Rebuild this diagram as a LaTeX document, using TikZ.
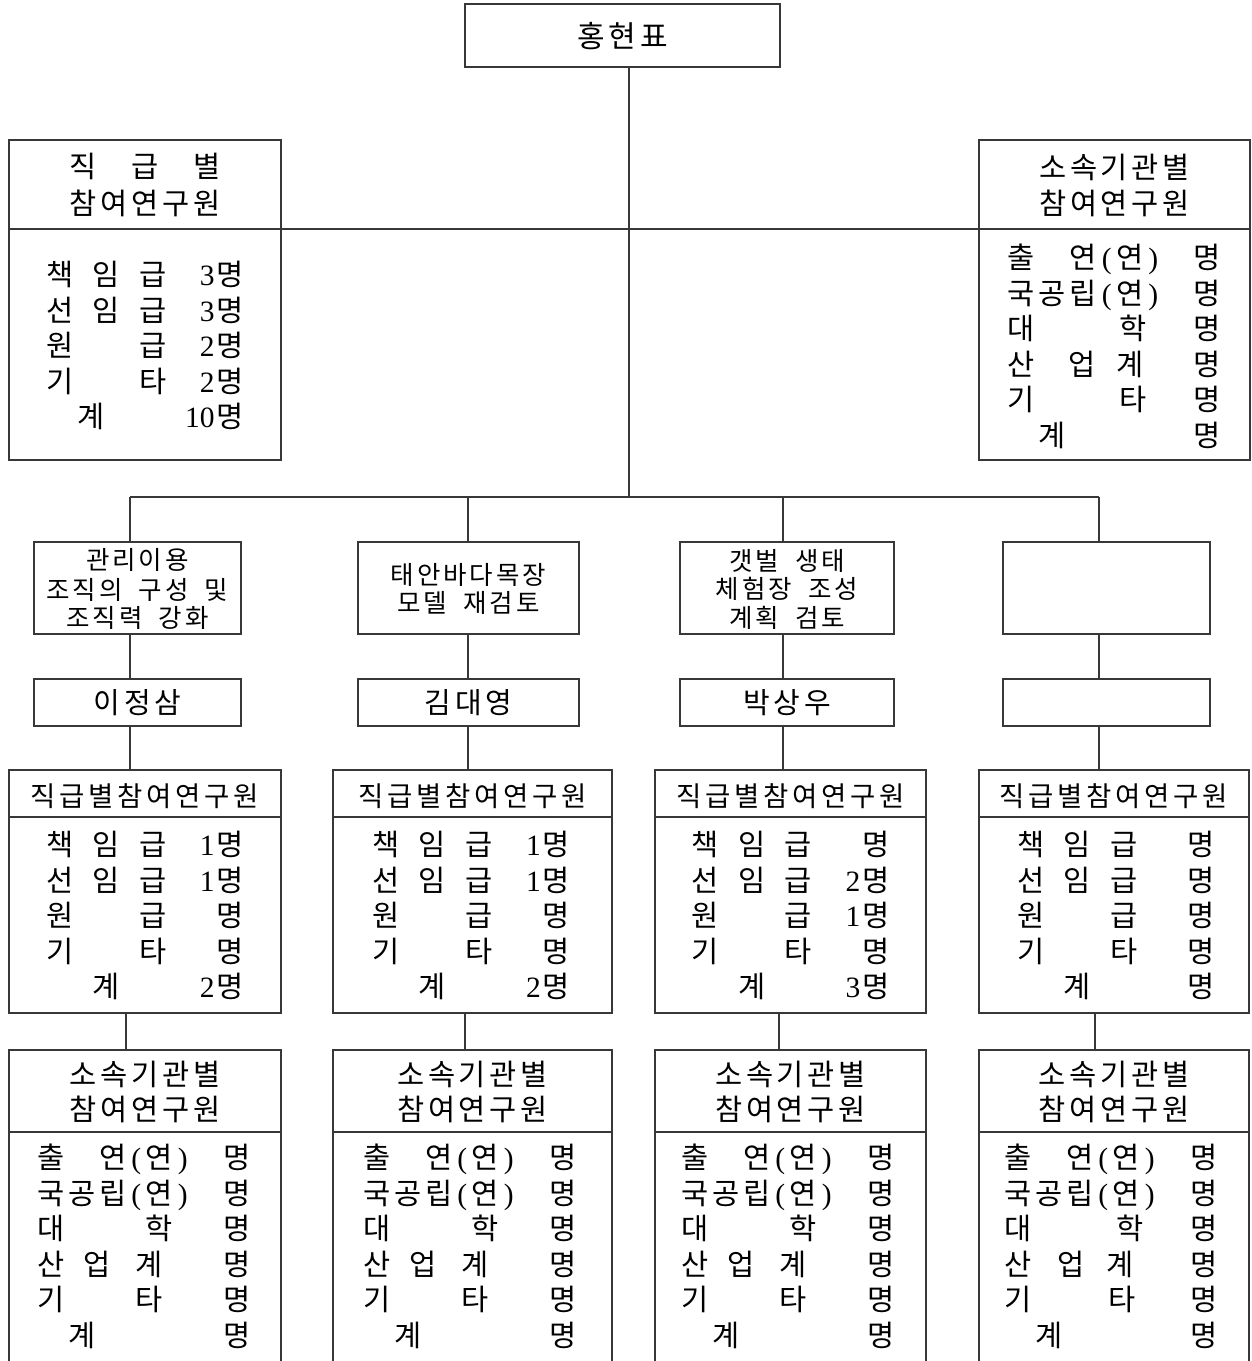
\documentclass[tikz,border=0pt]{standalone}
\usepackage{fontspec}
\setmainfont{Noto Sans CJK KR}
\newfontfamily\latf{Liberation Serif}
\newlength\uu
\setlength\uu{15.5pt}
\makeatletter
\def\sp@bar{|}
\newcommand\spaced[2]{\begingroup\def\sp@w{#1}\@tfor\sp@c:=#2\do{\ifx\sp@c\sp@bar\hspace*{0.5\dimexpr\sp@w\relax}\else\makebox[\sp@w][c]{\sp@c}\fi}\endgroup}
\makeatother
\newcommand\gk[2]{\rlap{\hspace*{#1\uu}\makebox[2\uu][c]{#2}}}
\newcommand\gs[2]{\rlap{\hspace*{#1\uu}\makebox[\uu][c]{\latf #2}}}
\newcommand\gn[1]{\rlap{\hspace*{11\uu}\llap{\latf #1}}}
% grade body: name, cx, y0, n1, n2, n3, n4, total, pos of 계
\newcommand\gradebody[9]{%
  \node[fb] (#1r1) at (#2,#3) {\makebox[13\uu][l]{\gk{0}{책}\gk{3}{임}\gk{6}{급}\gn{#4}\gk{11}{명}}};
  \node[fb] (#1r2) at (#2,#3+35.5) {\makebox[13\uu][l]{\gk{0}{선}\gk{3}{임}\gk{6}{급}\gn{#5}\gk{11}{명}}};
  \node[fb] (#1r3) at (#2,#3+71) {\makebox[13\uu][l]{\gk{0}{원}\gk{6}{급}\gn{#6}\gk{11}{명}}};
  \node[fb] (#1r4) at (#2,#3+106.5) {\makebox[13\uu][l]{\gk{0}{기}\gk{6}{타}\gn{#7}\gk{11}{명}}};
  \node[fb] (#1r5) at (#2,#3+142) {\makebox[13\uu][l]{\gk{#9}{계}\gn{#8}\gk{11}{명}}};
}
% affiliation body: name, cx, y0, pos 업, pos 계, pos 타, pos 학
\newcommand\affbody[7]{%
  \node[fb] (#1r1) at (#2,#3) {\makebox[14\uu][l]{\gk{0}{출}\gk{4}{연}\gs{6}{(}\gk{7}{연}\gs{9}{)}\gk{12}{명}}};
  \node[fb] (#1r2) at (#2,#3+35.5) {\makebox[14\uu][l]{\gk{0}{국}\gk{2}{공}\gk{4}{립}\gs{6}{(}\gk{7}{연}\gs{9}{)}\gk{12}{명}}};
  \node[fb] (#1r3) at (#2,#3+71) {\makebox[14\uu][l]{\gk{0}{대}\gk{#7}{학}\gk{12}{명}}};
  \node[fb] (#1r4) at (#2,#3+106.5) {\makebox[14\uu][l]{\gk{0}{산}\gk{#4}{업}\gk{#5}{계}\gk{12}{명}}};
  \node[fb] (#1r5) at (#2,#3+142) {\makebox[14\uu][l]{\gk{0}{기}\gk{#6}{타}\gk{12}{명}}};
  \node[fb] (#1r6) at (#2,#3+177.5) {\makebox[14\uu][l]{\gk{2}{계}\gk{12}{명}}};
}
\begin{document}
\begin{tikzpicture}[x=1pt,y=-1pt,
  every node/.style={inner sep=0pt,outer sep=0pt},
  bx/.style={draw=black!78,line width=1.2pt,rectangle},
  ln/.style={draw=black!78,line width=1.2pt},
  ft/.style={font=\fontsize{25.5}{30}\selectfont,text height=18.9pt,text depth=0pt},
  fg/.style={font=\fontsize{27.5}{32}\selectfont,text height=20.3pt,text depth=0pt},
  fn/.style={font=\fontsize{29}{34}\selectfont,text height=21.5pt,text depth=0pt},
  fb/.style={font=\fontsize{29.5}{34}\selectfont,text height=21.8pt,text depth=0pt},
  fh/.style={font=\fontsize{29.5}{34}\selectfont,text height=21.8pt,text depth=0pt},
  fr/.style={font=\fontsize{30}{34}\selectfont,text height=22.2pt,text depth=0pt}]
\useasboundingbox (0,0) rectangle (1252,1361);
\fill[white] (0,0) rectangle (1252,1361);

% top
\node[bx,minimum width=315pt,minimum height=63pt] (top) at (622.5,35.5) {};
\node[fr] (topt) at (622.5,36) {\spaced{31.7pt}{홍현표}};

% left side box
\node[bx,minimum width=272pt,minimum height=89pt] (lh) at (145,184.5) {};
\node[bx,minimum width=272pt,minimum height=231pt] (lb) at (145,344.5) {};
\node[fh] (lh1) at (145,167) {\spaced{30.8pt}{직~급~별}};
\node[fh] (lh2) at (145,204) {\spaced{30.8pt}{참여연구원}};
\gradebody{lb}{145}{275}{3}{3}{2}{2}{10}{2}

% right side box
\node[bx,minimum width=271pt,minimum height=89pt] (rh) at (1114.5,184.5) {};
\node[bx,minimum width=271pt,minimum height=231pt] (rb) at (1114.5,344.5) {};
\node[fh] (rh1) at (1114.5,168) {\spaced{30.8pt}{소속기관별}};
\node[fh] (rh2) at (1114.5,204) {\spaced{30.8pt}{참여연구원}};
\affbody{rb}{1114.5}{258}{3.9}{7}{7.2}{7.2}

% trunk and buses
\draw[ln] (lh.south east) -- (rh.south west);
\coordinate (bus) at (629,497);
\draw[ln] (bus |- top.south) -- (bus);
\coordinate (c1) at (130,497);
\coordinate (c2) at (468,497);
\coordinate (c3) at (783,497);
\coordinate (c4) at (1099,497);
\draw[ln] (c1) -- (c4);

% task boxes
\node[bx,minimum width=207pt,minimum height=92pt] (t1) at (137.5,588) {};
\node[bx,minimum width=221pt,minimum height=92pt] (t2) at (468.5,588) {};
\node[bx,minimum width=214pt,minimum height=92pt] (t3) at (787,588) {};
\node[bx,minimum width=207pt,minimum height=92pt] (t4) at (1106.5,588) {};
\node[ft] (t1a) at (137.5,560) {\spaced{26.4pt}{관리이용}};
\node[ft] (t1b) at (137.5,590) {\spaced{26.4pt}{조직의|구성|및}};
\node[ft] (t1c) at (137.5,618) {\spaced{26.4pt}{조직력|강화}};
\node[ft] (t2a) at (468.5,575) {\spaced{26.4pt}{태안바다목장}};
\node[ft] (t2b) at (468.5,603) {\spaced{26.4pt}{모델|재검토}};
\node[ft] (t3a) at (787,561) {\spaced{26.4pt}{갯벌|생태}};
\node[ft] (t3b) at (787,589) {\spaced{26.4pt}{체험장|조성}};
\node[ft] (t3c) at (787,618) {\spaced{26.4pt}{계획|검토}};

% name boxes
\node[bx,minimum width=207pt,minimum height=47pt] (n1) at (137.5,702.5) {};
\node[bx,minimum width=221pt,minimum height=47pt] (n2) at (468.5,702.5) {};
\node[bx,minimum width=214pt,minimum height=47pt] (n3) at (787,702.5) {};
\node[bx,minimum width=207pt,minimum height=47pt] (n4) at (1106.5,702.5) {};
\node[fn] (n1t) at (137.5,703) {\spaced{30.5pt}{이정삼}};
\node[fn] (n2t) at (468.5,703) {\spaced{30.5pt}{김대영}};
\node[fn] (n3t) at (787,703) {\spaced{30.5pt}{박상우}};

% grade boxes
\node[bx,minimum width=272pt,minimum height=47pt] (g1h) at (145,793.5) {};
\node[bx,minimum width=272pt,minimum height=196pt] (g1b) at (145,915) {};
\node[bx,minimum width=279pt,minimum height=47pt] (g2h) at (472.5,793.5) {};
\node[bx,minimum width=279pt,minimum height=196pt] (g2b) at (472.5,915) {};
\node[bx,minimum width=271pt,minimum height=47pt] (g3h) at (790.5,793.5) {};
\node[bx,minimum width=271pt,minimum height=196pt] (g3b) at (790.5,915) {};
\node[bx,minimum width=270pt,minimum height=47pt] (g4h) at (1114,793.5) {};
\node[bx,minimum width=270pt,minimum height=196pt] (g4b) at (1114,915) {};
\node[fg] (g1t) at (145,796) {\spaced{29pt}{직급별참여연구원}};
\node[fg] (g2t) at (472.5,796) {\spaced{29pt}{직급별참여연구원}};
\node[fg] (g3t) at (790.5,796) {\spaced{29pt}{직급별참여연구원}};
\node[fg] (g4t) at (1114,796) {\spaced{29pt}{직급별참여연구원}};
\gradebody{g1b}{145}{845}{1}{1}{}{}{2}{3}
\gradebody{g2b}{471}{845}{1}{1}{}{}{2}{3}
\gradebody{g3b}{790.5}{845}{}{2}{1}{}{3}{3}
\gradebody{g4b}{1116}{845}{}{}{}{}{}{3}

% affiliation boxes (bottom, cut by the page edge)
\node[bx,minimum width=272pt,minimum height=82pt] (b1h) at (145,1091) {};
\node[bx,minimum width=272pt,minimum height=250pt] (b1b) at (145,1257) {};
\node[bx,minimum width=279pt,minimum height=82pt] (b2h) at (472.5,1091) {};
\node[bx,minimum width=279pt,minimum height=250pt] (b2b) at (472.5,1257) {};
\node[bx,minimum width=271pt,minimum height=82pt] (b3h) at (790.5,1091) {};
\node[bx,minimum width=271pt,minimum height=250pt] (b3b) at (790.5,1257) {};
\node[bx,minimum width=270pt,minimum height=82pt] (b4h) at (1114,1091) {};
\node[bx,minimum width=270pt,minimum height=250pt] (b4b) at (1114,1257) {};
\node[fh] (b1t1) at (145,1075) {\spaced{30.8pt}{소속기관별}};
\node[fh] (b1t2) at (145,1110) {\spaced{30.8pt}{참여연구원}};
\node[fh] (b2t1) at (472.5,1075) {\spaced{30.8pt}{소속기관별}};
\node[fh] (b2t2) at (472.5,1110) {\spaced{30.8pt}{참여연구원}};
\node[fh] (b3t1) at (790.5,1075) {\spaced{30.8pt}{소속기관별}};
\node[fh] (b3t2) at (790.5,1110) {\spaced{30.8pt}{참여연구원}};
\node[fh] (b4t1) at (1114,1075) {\spaced{30.8pt}{소속기관별}};
\node[fh] (b4t2) at (1114,1110) {\spaced{30.8pt}{참여연구원}};
\affbody{b1b}{144}{1158}{3}{6.3}{6.3}{7}
\affbody{b2b}{470}{1158}{3}{6.3}{6.3}{7}
\affbody{b3b}{788}{1158}{3}{6.3}{6.3}{7}
\affbody{b4b}{1111}{1158}{3.4}{6.6}{6.7}{7.2}

% column connectors
\draw[ln] (c1) -- (c1 |- t1.north);
\draw[ln] (c2) -- (c2 |- t2.north);
\draw[ln] (c3) -- (c3 |- t3.north);
\draw[ln] (c4) -- (c4 |- t4.north);
\draw[ln] (c1 |- t1.south) -- (c1 |- n1.north);
\draw[ln] (c2 |- t2.south) -- (c2 |- n2.north);
\draw[ln] (c3 |- t3.south) -- (c3 |- n3.north);
\draw[ln] (c4 |- t4.south) -- (c4 |- n4.north);
\draw[ln] (c1 |- n1.south) -- (c1 |- g1h.north);
\draw[ln] (c2 |- n2.south) -- (c2 |- g2h.north);
\draw[ln] (c3 |- n3.south) -- (c3 |- g3h.north);
\draw[ln] (c4 |- n4.south) -- (c4 |- g4h.north);
\coordinate (d1) at (126,1030);
\coordinate (d2) at (465,1030);
\coordinate (d3) at (779,1030);
\coordinate (d4) at (1095,1030);
\draw[ln] (d1 |- g1b.south) -- (d1 |- b1h.north);
\draw[ln] (d2 |- g2b.south) -- (d2 |- b2h.north);
\draw[ln] (d3 |- g3b.south) -- (d3 |- b3h.north);
\draw[ln] (d4 |- g4b.south) -- (d4 |- b4h.north);
\end{tikzpicture}
\end{document}
